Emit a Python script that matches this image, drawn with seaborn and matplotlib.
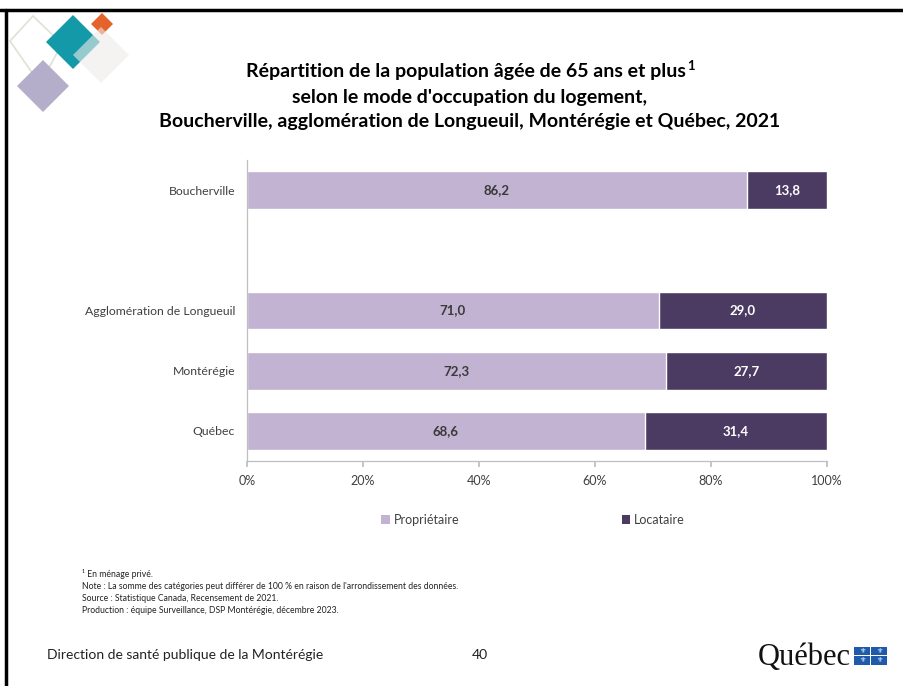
import matplotlib
matplotlib.use("Agg")
import matplotlib.pyplot as plt
from matplotlib.patches import Polygon, Patch, Rectangle
from matplotlib.lines import Line2D
import seaborn as sns
import pandas as pd

# Data: share of the 65+ population by housing tenure, 2021 (%)
regions = ["Boucherville", "Agglomération de Longueuil", "Montérégie", "Québec"]
proprietaire = [86.2, 71.0, 72.3, 68.6]
locataire = [13.8, 29.0, 27.7, 31.4]
row_order = ["Boucherville", " ", "Agglomération de Longueuil", "Montérégie", "Québec"]
x_ticks = [0, 20, 40, 60, 80, 100]
x_tick_labels = ["0%", "20%", "40%", "60%", "80%", "100%"]

COL_PROP = "#C1B3D1"
COL_LOC = "#4B3B63"
TXT = "#404040"

sns.set_theme(style="white")
plt.rcParams["font.family"] = ["Lato", "DejaVu Sans"]

df = pd.DataFrame({"region": regions, "prop": proprietaire, "loc": locataire})
df["total"] = df["prop"] + df["loc"]

W, H = 904, 686
fig = plt.figure(figsize=(W / 100, H / 100), dpi=100)
fig.patch.set_facecolor("white")

def fx(px):
    return px / W

def fy(py):
    return 1 - py / H

ax = fig.add_axes([fx(247), fy(461), fx(827) - fx(247), fy(160) - fy(461)])

# stacked bars: full total (renters) behind, owners in front
sns.barplot(data=df, x="total", y="region", order=row_order, color=COL_LOC,
            width=0.63, saturation=1, ax=ax, orient="h")
sns.barplot(data=df, x="prop", y="region", order=row_order, color=COL_PROP,
            width=0.63, saturation=1, ax=ax, orient="h")

for i, r in enumerate(regions):
    yi = row_order.index(r)
    p, l = proprietaire[i], locataire[i]
    ax.text(p / 2, yi, f"{p:.1f}".replace(".", ","), ha="center", va="center",
            fontsize=9.5, fontweight="bold", color="#3A3A3A")
    ax.text(p + l / 2, yi, f"{l:.1f}".replace(".", ","), ha="center", va="center",
            fontsize=9.5, fontweight="bold", color="white")

ax.set_xlim(0, 100)
ax.set_ylim(4.5, -0.5)
ax.set_xticks(x_ticks)
ax.set_xticklabels(x_tick_labels, fontsize=9, color=TXT)
ax.set_xlabel("")
ax.set_ylabel("")
ax.tick_params(axis="x", length=4, color="#BFBFBF", pad=6, bottom=True)
ax.tick_params(axis="y", length=0, pad=8.5, labelsize=8.8, labelcolor=TXT)
for s in ["top", "right"]:
    ax.spines[s].set_visible(False)
for s in ["left", "bottom"]:
    ax.spines[s].set_color("#BFBFBF")
    ax.spines[s].set_linewidth(0.9)

# title (first line carries a footnote call drawn as a raised "1")
title_lines = ["Répartition de la population âgée de 65 ans et plus",
               "selon le mode d'occupation du logement,",
               "Boucherville, agglomération de Longueuil, Montérégie et Québec, 2021"]
title_artists = []
for t, yy, xx in zip(title_lines, [72, 97, 122], [466, 470, 470]):
    title_artists.append(fig.text(fx(xx), fy(yy), t, ha="center", va="center", fontsize=14,
                                  fontweight="bold", color="black"))
renderer = fig.canvas.get_renderer()
bb = title_artists[0].get_window_extent(renderer)
fig.text(bb.x1 / W + fx(1), fy(66), "1", ha="left", va="center", fontsize=9.5,
         fontweight="bold", color="black")

# legend
handles = [Patch(facecolor=COL_PROP, edgecolor="none", label="Propriétaire"),
           Patch(facecolor=COL_LOC, edgecolor="none", label="Locataire")]
fig.legend(handles=handles, loc="center", bbox_to_anchor=(fx(533), fy(520)), ncol=2,
           frameon=False, fontsize=9, handlelength=0.7, handleheight=0.7,
           handletextpad=0.3, columnspacing=13, labelcolor=TXT)

# notes
notes = ["¹ En ménage privé.",
         "Note : La somme des catégories peut différer de 100 % en raison de l'arrondissement des données.",
         "Source : Statistique Canada, Recensement de 2021.",
         "Production : équipe Surveillance, DSP Montérégie, décembre 2023."]
for k, t in enumerate(notes):
    fig.text(fx(82), fy(574 + 12.3 * k), t, ha="left", va="center", fontsize=6.2, color="#222222")

# footer
fig.text(fx(47), fy(655), "Direction de santé publique de la Montérégie", ha="left", va="center",
         fontsize=10, color="#222222")
fig.text(fx(480), fy(655), "40", ha="center", va="center", fontsize=10, color="#222222")
fig.text(fx(851), fy(657), "Québec", ha="right", va="center", fontsize=22,
         family=["Liberation Serif", "DejaVu Serif"], color="#111111")
for (cx, cy) in [(862, 651), (879, 651), (862, 660.5), (879, 660.5)]:
    fig.add_artist(Rectangle((fx(cx - 7.8), fy(cy + 4.3)), fx(15.6), fy(0) - fy(8.6),
                             transform=fig.transFigure, facecolor="#1F5BAA", edgecolor="none"))
    fig.text(fx(cx), fy(cy), "⚜", ha="center", va="center", fontsize=5, color="white",
             family=["DejaVu Sans"])

# decorative diamonds
def diamond(cx, cy, r, **kw):
    pts = [(fx(cx), fy(cy - r)), (fx(cx + r), fy(cy)), (fx(cx), fy(cy + r)), (fx(cx - r), fy(cy))]
    fig.add_artist(Polygon(pts, closed=True, transform=fig.transFigure, joinstyle="round", **kw))

outline = [(fx(33), fy(16)), (fx(62), fy(44)), (fx(40), fy(84)), (fx(10), fy(41))]
fig.add_artist(Polygon(outline, closed=True, transform=fig.transFigure, fill=False,
                       edgecolor="#DCE3D6", linewidth=1.2))
diamond(43, 86, 26, facecolor="#B5AECB", edgecolor="none")
diamond(73, 42, 27, facecolor="#1499A8", edgecolor="none")
diamond(102, 24, 11, facecolor="#E5622A", edgecolor="none")
diamond(101, 55, 28, facecolor="#EEEBEA", edgecolor="none", alpha=0.6)

# slide frame
fig.add_artist(Line2D([fx(0), fx(W)], [fy(10), fy(10)], transform=fig.transFigure,
                      color="black", linewidth=2.5))
fig.add_artist(Line2D([fx(6), fx(6)], [fy(10), fy(H)], transform=fig.transFigure,
                      color="black", linewidth=2.5))

fig.savefig("out.png", dpi=100, facecolor="white")
